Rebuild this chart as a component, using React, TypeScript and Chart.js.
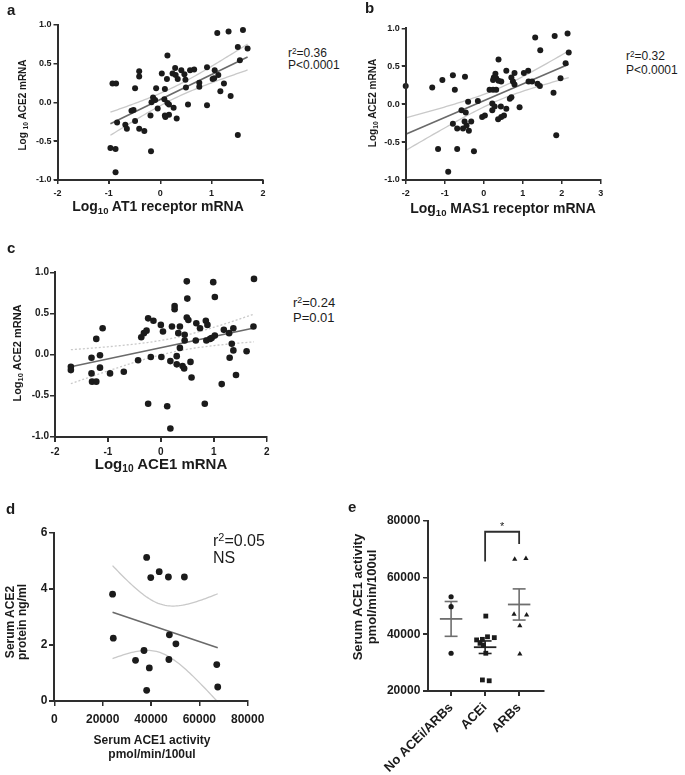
import React, { useEffect, useRef, useState } from 'react';
import { Chart, registerables } from 'chart.js';

Chart.register(...registerables);

const FONT = '"Liberation Sans", Arial, Helvetica, sans-serif';
const INK = '#1b1b1b';
const AXIS = '#2e2e2e';
const FIT = '#6a6a6a';
const BAND = '#c9c9c9';

// ---- panel a: Log10 AT1 receptor mRNA (x) vs Log10 ACE2 mRNA (y)
const aAT1 = [1.11, 1.33, 1.61, 1.51, 1.70, 1.55, 0.14, 0.29, 0.41, 0.58, 0.66, 0.91, 1.06, 0.03, 0.24, 0.30, 0.34, 0.47, 0.49, 0.13, -0.41, -0.41, -0.93, -0.86, -0.49, -0.08, 0.09, 0.50, 0.76, 0.76, 1.02, 1.05, 1.13, 1.24, 1.17, 1.37, 0.91, 0.54, -0.14, -0.10, -0.17, 0.08, 0.14, 0.17, -0.05, 0.26, 0.09, 0.17, 0.10, 0.32, -0.52, -0.56, -0.49, -0.84, -0.68, -0.65, -0.41, -0.31, -0.19, -0.97, -0.87, -0.18, -0.87, 1.51];
const aACE2 = [0.89, 0.91, 0.93, 0.71, 0.69, 0.54, 0.60, 0.44, 0.41, 0.41, 0.42, 0.45, 0.41, 0.37, 0.37, 0.35, 0.30, 0.36, 0.29, 0.30, 0.40, 0.33, 0.24, 0.24, 0.18, 0.18, 0.17, 0.19, 0.25, 0.20, 0.30, 0.31, 0.35, 0.24, 0.14, 0.08, -0.04, -0.03, 0.06, 0.03, 0.00, 0.04, -0.01, -0.03, -0.08, -0.07, -0.17, -0.16, -0.19, -0.21, -0.10, -0.11, -0.24, -0.26, -0.29, -0.34, -0.34, -0.37, -0.17, -0.59, -0.60, -0.63, -0.90, -0.42];

// ---- panel b: Log10 MAS1 receptor mRNA (x) vs Log10 ACE2 mRNA (y)
const bMAS1 = [-2.00, -1.32, -1.06, -0.79, -0.74, -0.48, -1.17, -0.68, -0.25, -0.91, 1.32, 1.82, 2.15, 1.45, 2.18, 2.10, 1.97, 1.79, 1.86, 0.38, 0.58, 0.79, 1.03, 1.14, 0.30, 0.26, 0.32, 0.38, 0.45, 0.24, 0.71, 0.75, 0.79, 1.15, 1.24, 1.38, 1.44, 0.15, 0.24, 0.32, -0.40, -0.15, -0.57, -0.46, 0.22, 0.28, 0.44, 0.58, 0.67, 0.71, 0.92, 0.22, 0.45, 0.52, 0.37, -0.04, 0.03, -0.79, -0.68, -0.53, -0.44, -0.38, -0.32, -0.49];
const bACE2 = [0.24, 0.22, 0.32, 0.38, 0.19, 0.36, -0.59, -0.59, -0.62, -0.89, 0.88, 0.90, 0.93, 0.71, 0.68, 0.54, 0.34, 0.15, -0.41, 0.59, 0.44, 0.41, 0.41, 0.44, 0.40, 0.35, 0.34, 0.31, 0.30, 0.32, 0.35, 0.30, 0.26, 0.30, 0.30, 0.27, 0.24, 0.19, 0.19, 0.19, 0.03, 0.04, -0.08, -0.11, 0.01, -0.03, -0.03, -0.06, 0.07, 0.09, -0.04, -0.08, -0.17, -0.15, -0.20, -0.17, -0.15, -0.26, -0.32, -0.32, -0.28, -0.35, -0.23, -0.23];

// ---- panel c: Log10 ACE1 mRNA (x) vs Log10 ACE2 mRNA (y)
const cACE1 = [-1.70, -1.70, -1.31, -1.31, -1.30, -1.22, -1.22, -1.15, -1.15, -1.10, -0.96, -0.70, -0.43, -0.37, -0.32, -0.27, -0.24, -0.14, -0.19, -0.24, 0.00, 0.04, 0.01, 0.12, 0.18, 0.18, 0.21, 0.26, 0.26, 0.30, 0.36, 0.33, 0.36, 0.30, 0.41, 0.44, 0.45, 0.45, 0.49, 0.50, 0.49, 0.52, 0.56, 0.58, 0.67, 0.74, 0.66, 0.85, 0.88, 0.86, 0.93, 0.96, 0.83, 0.99, 1.02, 1.02, 1.15, 1.19, 1.29, 1.34, 1.37, 1.30, 1.37, 1.42, 1.62, 1.75, 1.76];
const cACE2 = [-0.15, -0.19, -0.04, -0.23, -0.33, -0.33, 0.19, -0.01, -0.16, 0.32, -0.23, -0.21, -0.07, 0.21, 0.26, 0.29, 0.44, 0.41, -0.03, -0.60, 0.36, 0.28, -0.03, -0.63, -0.90, -0.08, 0.34, 0.59, 0.55, -0.02, 0.34, 0.26, 0.08, -0.12, -0.14, -0.17, 0.17, 0.24, 0.89, 0.68, 0.45, 0.42, -0.09, -0.28, 0.38, 0.32, 0.17, 0.41, 0.36, 0.17, 0.19, 0.20, -0.60, 0.88, 0.70, 0.23, -0.36, 0.30, 0.26, 0.13, 0.05, -0.04, 0.32, -0.25, 0.04, 0.34, 0.92];

// ---- panel d: serum ACE1 activity (x) vs serum ACE2 protein (y)
const dACE1Activity = [24100, 24400, 38200, 39900, 43400, 47200, 53800, 37100, 33600, 39300, 38200, 47600, 50300, 47400, 67200, 67600];
const dACE2Protein = [3.81, 2.24, 5.12, 4.40, 4.61, 4.42, 4.42, 1.80, 1.45, 1.18, 0.38, 2.36, 2.04, 1.48, 1.30, 0.50];

// ---- panel e: serum ACE1 activity by treatment group
const eGroups = ['No ACEi/ARBs', 'ACEi', 'ARBs'];
const eNone = [53200, 49700, 33300];
const eAcei = [46400, 38000, 38200, 39100, 38800, 36800, 36200, 33300, 23900, 23600];
const eArbs = [66400, 66700, 47000, 46800, 43000, 33000];
const eNoneJitter = [0, 0, 0];
const eAceiJitter = [0.02, -0.25, -0.08, 0.07, 0.27, -0.15, -0.05, 0.02, -0.08, 0.12];
const eArbsJitter = [-0.13, 0.2, -0.15, 0.22, 0.02, 0.02];
const eBracket = [65600, 76100, 71800]; // ACEi foot, top, ARBs foot

// ---- axis ranges and tick values
const logTicksY = [-1, -0.5, 0, 0.5, 1];
const aTicksX = [-2, -1, 0, 1, 2];
const bTicksX = [-2, -1, 0, 1, 2, 3];
const cTicksX = [-2, -1, 0, 1, 2];
const dTicksX = [0, 20000, 40000, 60000, 80000];
const dTicksY = [0, 2, 4, 6];
const eTicksY = [20000, 40000, 60000, 80000];
const eRangeX = [-0.67, 2.71];

type P = { x: number; y: number };

function regression(xs: number[], ys: number[]) {
  const n = xs.length;
  const mx = xs.reduce((s, v) => s + v, 0) / n;
  const my = ys.reduce((s, v) => s + v, 0) / n;
  let sxx = 0;
  let sxy = 0;
  xs.forEach((x, i) => {
    sxx += (x - mx) ** 2;
    sxy += (x - mx) * (ys[i] - my);
  });
  const slope = sxy / sxx;
  const icpt = my - slope * mx;
  let sse = 0;
  xs.forEach((x, i) => {
    sse += (ys[i] - icpt - slope * x) ** 2;
  });
  const s = Math.sqrt(sse / (n - 2));
  const df = n - 2;
  const z = 1.959964;
  const t = z + (z ** 3 + z) / (4 * df) + (5 * z ** 5 + 16 * z ** 3 + 3 * z) / (96 * df * df);
  const lo = Math.min(...xs);
  const hi = Math.max(...xs);
  const line: P[] = [lo, hi].map((x) => ({ x, y: icpt + slope * x }));
  const upper: P[] = [];
  const lower: P[] = [];
  const N = 60;
  for (let k = 0; k <= N; k++) {
    const x = lo + ((hi - lo) * k) / N;
    const yh = icpt + slope * x;
    const h = t * s * Math.sqrt(1 / n + (x - mx) ** 2 / sxx);
    upper.push({ x, y: yh + h });
    lower.push({ x, y: yh - h });
  }
  return { line, upper, lower };
}

function meanSem(v: number[]) {
  const n = v.length;
  const m = v.reduce((s, a) => s + a, 0) / n;
  const sd = Math.sqrt(v.reduce((s, a) => s + (a - m) ** 2, 0) / (n - 1));
  return { mean: m, sem: sd / Math.sqrt(n) };
}

type Box = { left: number; top: number; width: number; height: number; x0: number; x1: number; y0: number; y1: number };

const BOX_A: Box = { left: 15, top: 5, width: 265, height: 200, x0: 57.5, x1: 263, y0: 24.5, y1: 180 };
const BOX_B: Box = { left: 365, top: 5, width: 255, height: 200, x0: 405.7, x1: 600.7, y0: 28.3, y1: 180 };
const BOX_C: Box = { left: 15, top: 250, width: 270, height: 212, x0: 55, x1: 266.7, y0: 272.3, y1: 436.7 };
const BOX_D: Box = { left: 15, top: 515, width: 280, height: 215, x0: 54.3, x1: 247.7, y0: 532.7, y1: 701 };
const BOX_E: Box = { left: 360, top: 505, width: 200, height: 270, x0: 428.3, x1: 543.3, y0: 520.7, y1: 691 };

function linAxis(ticks: number[], min: number, max: number, size: number, tl: number, pad: number, fmt: (v: number) => string) {
  return {
    type: 'linear',
    min,
    max,
    afterBuildTicks: (s: any) => {
      s.ticks = ticks.map((v) => ({ value: v }));
    },
    ticks: {
      font: { family: FONT, size, weight: 'bold' },
      color: INK,
      padding: pad,
      autoSkip: false,
      maxRotation: 0,
      minRotation: 0,
      callback: (v: number) => fmt(Number(v)),
    },
    grid: { display: true, drawOnChartArea: false, drawTicks: true, tickLength: tl, color: AXIS, lineWidth: 1.5 },
    border: { display: true, color: AXIS, width: 2 },
  } as any;
}

function baseOptions(box: Box, x: any, y: any) {
  x.afterFit = (s: any) => {
    s.height = box.top + box.height - box.y1;
  };
  y.afterFit = (s: any) => {
    s.width = box.x0 - box.left;
  };
  return {
    responsive: false,
    maintainAspectRatio: false,
    animation: false,
    events: [],
    layout: { padding: { left: 0, bottom: 0, top: box.y0 - box.top, right: box.left + box.width - box.x1 } },
    plugins: { legend: { display: false }, tooltip: { enabled: false }, title: { display: false } },
    scales: { x, y },
  } as any;
}

function scatterPanel(
  box: Box,
  xs: number[],
  ys: number[],
  xt: number[],
  yt: number[],
  tickSize: number,
  tl: number,
  padX: number,
  padY: number,
  fmtY: (v: number) => string,
  radius: number,
  dashed: boolean,
) {
  const r = regression(xs, ys);
  const dash = dashed ? [2, 2] : [];
  const ax = linAxis(xt, xt[0], xt[xt.length - 1], tickSize, tl, padX, fmt0);
  const ay = linAxis(yt, yt[0], yt[yt.length - 1], tickSize, tl, padY, fmtY);
  return {
    type: 'scatter',
    data: {
      datasets: [
        { data: xs.map((x, i) => ({ x, y: ys[i] })), pointRadius: radius, pointBackgroundColor: INK, pointBorderWidth: 0, clip: false },
        { data: r.line, showLine: true, pointRadius: 0, borderColor: FIT, borderWidth: 1.6, clip: false },
        { data: r.upper, showLine: true, pointRadius: 0, borderColor: BAND, borderWidth: 1.3, borderDash: dash, clip: false },
        { data: r.lower, showLine: true, pointRadius: 0, borderColor: BAND, borderWidth: 1.3, borderDash: dash, clip: false },
      ],
    },
    options: baseOptions(box, ax, ay),
  } as any;
}

const fmt1 = (v: number) => v.toFixed(1);
const fmt0 = (v: number) => String(Math.round(v));

const makeA = () => scatterPanel(BOX_A, aAT1, aACE2, aTicksX, logTicksY, 9, 4, 4, 2, fmt1, 3, false);
const makeB = () => scatterPanel(BOX_B, bMAS1, bACE2, bTicksX, logTicksY, 9, 4, 4, 2, fmt1, 3, false);
const makeC = () => scatterPanel(BOX_C, cACE1, cACE2, cTicksX, logTicksY, 10, 5, 5, 1, fmt1, 3.3, true);
const makeD = () => scatterPanel(BOX_D, dACE1Activity, dACE2Protein, dTicksX, dTicksY, 12, 5, 6, 2, fmt0, 3.4, false);

const starPlugin = {
  id: 'sigStar',
  afterDatasetsDraw(chart: any) {
    const { ctx, scales } = chart;
    ctx.save();
    ctx.font = `11px ${FONT}`;
    ctx.fillStyle = INK;
    ctx.textAlign = 'center';
    ctx.textBaseline = 'alphabetic';
    ctx.fillText('*', scales.x.getPixelForValue(1.5), scales.y.getPixelForValue(eBracket[1]) - 2);
    ctx.restore();
  },
};

const makeE = () => {
  const groups = [eNone, eAcei, eArbs];
  const jit = [eNoneJitter, eAceiJitter, eArbsJitter];
  const styles = ['circle', 'rect', 'triangle'];
  const radii = [2.6, 3.4, 3.0];
  const markers = groups.map((vals, g) => ({
    data: vals.map((v, i) => ({ x: g + jit[g][i], y: v })),
    pointStyle: styles[g],
    pointRadius: radii[g],
    pointBackgroundColor: INK,
    pointBorderColor: INK,
    pointBorderWidth: 0,
    clip: false,
  }));
  const seg = (d: P[], color: string, w = 1.6) => ({ data: d, showLine: true, pointRadius: 0, borderColor: color, borderWidth: w, clip: false });
  const bars: any[] = [];
  groups.forEach((vals, g) => {
    const { mean, sem } = meanSem(vals);
    const c = g === 1 ? '#222222' : '#6e6e6e';
    bars.push(seg([{ x: g - 0.33, y: mean }, { x: g + 0.33, y: mean }], c, 1.8));
    bars.push(seg([{ x: g, y: mean - sem }, { x: g, y: mean + sem }], c));
    bars.push(seg([{ x: g - 0.19, y: mean + sem }, { x: g + 0.19, y: mean + sem }], c));
    bars.push(seg([{ x: g - 0.19, y: mean - sem }, { x: g + 0.19, y: mean - sem }], c));
  });
  const bracket = seg(
    [
      { x: 1, y: eBracket[0] },
      { x: 1, y: eBracket[1] },
      { x: 2, y: eBracket[1] },
      { x: 2, y: eBracket[2] },
    ],
    AXIS,
    1.8,
  );
  const groupIdx = eGroups.map((_, i) => i);
  const xAxis = linAxis(groupIdx, eRangeX[0], eRangeX[1], 13, 5, 4, (v) => eGroups[Math.round(v)] ?? '');
  xAxis.ticks.maxRotation = 45;
  xAxis.ticks.minRotation = 45;
  const yAxis = linAxis(eTicksY, eTicksY[0], eTicksY[eTicksY.length - 1], 12, 5, 3, fmt0);
  return {
    type: 'scatter',
    data: { datasets: [...markers, ...bars, bracket] },
    options: baseOptions(BOX_E, xAxis, yAxis),
    plugins: [starPlugin],
  } as any;
};

type AxisGeom = { xl: number; xr: number; yb: number; yt: number; xt: number[]; yt2: number[]; tlx: number; tly: number };

function ChartBox({ box, make }: { box: Box; make: () => any }) {
  const ref = useRef<HTMLCanvasElement>(null);
  const [geom, setGeom] = useState<AxisGeom | null>(null);
  useEffect(() => {
    const chart = new Chart(ref.current as HTMLCanvasElement, make());
    const xs: any = chart.scales.x;
    const ys: any = chart.scales.y;
    // axis line and tick positions, read back from the chart's own scales
    setGeom({
      xl: xs.getPixelForValue(xs.min),
      xr: xs.getPixelForValue(xs.max),
      yb: ys.getPixelForValue(ys.min),
      yt: ys.getPixelForValue(ys.max),
      xt: xs.ticks.map((t: any) => xs.getPixelForValue(t.value)),
      yt2: ys.ticks.map((t: any) => ys.getPixelForValue(t.value)),
      tlx: xs.options.grid.tickLength,
      tly: ys.options.grid.tickLength,
    });
    return () => chart.destroy();
  }, []);
  const bar = (l: number, t: number, w: number, h: number, k: string) => (
    <div key={k} style={{ position: 'absolute', left: l, top: t, width: w, height: h, background: AXIS }} />
  );
  return (
    <div style={{ position: 'absolute', left: box.left, top: box.top, width: box.width, height: box.height }}>
      <canvas ref={ref} width={box.width} height={box.height} style={{ display: 'block', width: box.width, height: box.height }} />
      {geom && (
        <>
          {bar(geom.xl - 1, geom.yt, 2, geom.yb - geom.yt + 1, 'ya')}
          {bar(geom.xl - 1, geom.yb - 1, geom.xr - geom.xl + 1, 2, 'xa')}
          {geom.xt.map((px, i) => bar(px - 0.75, geom.yb, 1.5, geom.tlx, 'xt' + i))}
          {geom.yt2.map((py, i) => bar(geom.xl - geom.tly, py - 0.75, geom.tly, 1.5, 'yt' + i))}
        </>
      )}
    </div>
  );
}

const Sub = ({ children }: { children: React.ReactNode }) => (
  <span style={{ fontSize: '0.68em', position: 'relative', top: '0.3em' }}>{children}</span>
);
const Sup = ({ children }: { children: React.ReactNode }) => (
  <span style={{ fontSize: '0.68em', position: 'relative', top: '-0.45em' }}>{children}</span>
);

function Txt({ x, base, size, bold = false, center = false, children }: { x: number; base: number; size: number; bold?: boolean; center?: boolean; children: React.ReactNode }) {
  return (
    <div
      style={{
        position: 'absolute',
        left: x,
        top: base - 0.846 * size,
        fontFamily: FONT,
        fontSize: size,
        lineHeight: `${size}px`,
        fontWeight: bold ? 700 : 400,
        color: INK,
        whiteSpace: 'nowrap',
        transform: center ? 'translateX(-50%)' : undefined,
      }}
    >
      {children}
    </div>
  );
}

function VTxt({ cx, cy, size, lh, children }: { cx: number; cy: number; size: number; lh: number; children: React.ReactNode }) {
  return (
    <div
      style={{
        position: 'absolute',
        left: cx,
        top: cy,
        transform: 'translate(-50%, -50%) rotate(-90deg)',
        fontFamily: FONT,
        fontSize: size,
        lineHeight: `${lh}px`,
        fontWeight: 700,
        color: INK,
        whiteSpace: 'nowrap',
        textAlign: 'center',
      }}
    >
      {children}
    </div>
  );
}

export default function App() {
  return (
    <div style={{ position: 'absolute', left: 0, top: 0, width: 685, height: 775, background: '#fff' }}>
      <ChartBox box={BOX_A} make={makeA} />
      <ChartBox box={BOX_B} make={makeB} />
      <ChartBox box={BOX_C} make={makeC} />
      <ChartBox box={BOX_D} make={makeD} />
      <ChartBox box={BOX_E} make={makeE} />

      {/* panel letters */}
      <Txt x={7} base={15} size={15} bold>a</Txt>
      <Txt x={365} base={13} size={15} bold>b</Txt>
      <Txt x={7} base={253} size={15} bold>c</Txt>
      <Txt x={6} base={514} size={15} bold>d</Txt>
      <Txt x={348} base={512} size={15} bold>e</Txt>

      {/* panel a */}
      <VTxt cx={22.5} cy={105} size={10} lh={11}>Log <Sub>10</Sub> ACE2 mRNA</VTxt>
      <Txt x={158} base={211} size={14} bold center>Log<Sub>10</Sub> AT1 receptor mRNA</Txt>
      <Txt x={288} base={57.5} size={12}>r<Sup>2</Sup>=0.36</Txt>
      <Txt x={288} base={69.5} size={12}>P&lt;0.0001</Txt>

      {/* panel b */}
      <VTxt cx={373} cy={103} size={10} lh={11}>Log<Sub>10</Sub> ACE2 mRNA</VTxt>
      <Txt x={503} base={213} size={14} bold center>Log<Sub>10</Sub> MAS1 receptor mRNA</Txt>
      <Txt x={626} base={60.5} size={12}>r<Sup>2</Sup>=0.32</Txt>
      <Txt x={626} base={74} size={12}>P&lt;0.0001</Txt>

      {/* panel c */}
      <VTxt cx={18} cy={353} size={11} lh={12}>Log<Sub>10</Sub> ACE2 mRNA</VTxt>
      <Txt x={161} base={469} size={15} bold center>Log<Sub>10</Sub> ACE1 mRNA</Txt>
      <Txt x={293} base={306.5} size={13}>r<Sup>2</Sup>=0.24</Txt>
      <Txt x={293} base={321.5} size={13}>P=0.01</Txt>

      {/* panel d */}
      <VTxt cx={16} cy={622} size={12} lh={12}>Serum ACE2<br />protein ng/ml</VTxt>
      <Txt x={152} base={744} size={12} bold center>Serum ACE1 activity</Txt>
      <Txt x={152} base={758} size={12} bold center>pmol/min/100ul</Txt>
      <Txt x={213} base={546.5} size={16}>r<Sup>2</Sup>=0.05</Txt>
      <Txt x={213} base={564} size={16}>NS</Txt>

      {/* panel e */}
      <VTxt cx={365} cy={597} size={13} lh={14}>Serum ACE1 activity<br />pmol/min/100ul</VTxt>
    </div>
  );
}
